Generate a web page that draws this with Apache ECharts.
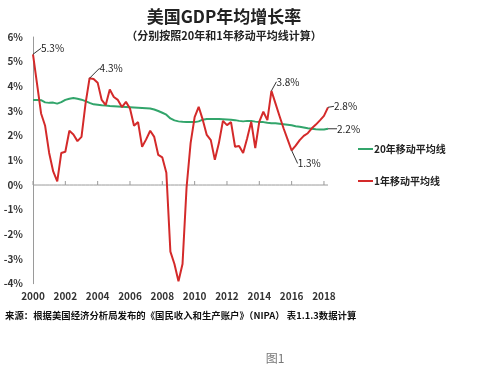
<!DOCTYPE html>
<html><head><meta charset="utf-8">
<script src="https://cdn.jsdelivr.net/npm/echarts@6/dist/echarts.min.js"></script>
<style>html,body{margin:0;padding:0;background:#fff;}#c{width:500px;height:369px;}</style>
</head><body><div id="c"></div>
<script>
// quarterly categories 2000Q1 .. 2018Q2
const startYear = 2000;
const quarterCount = 74;
const quarters = [];
for (let i = 0; i < quarterCount; i++) quarters.push((startYear + Math.floor(i / 4)) + 'Q' + (i % 4 + 1));

const yearLabels = ['2000','2002','2004','2006','2008','2010','2012','2014','2016','2018'];
const yMin = -4, yMax = 6, yStep = 1;

// 1-year moving average (%)
const ma1 = [5.3,4.1,2.9,2.4,1.3,0.55,0.15,1.3,1.35,2.2,2.05,1.78,1.95,3.3,4.33,4.3,4.15,3.45,3.24,3.87,
  3.57,3.45,3.16,3.37,3.1,2.4,2.55,1.55,1.85,2.2,1.95,1.22,1.12,0.5,-2.7,-3.2,-3.9,-3.2,-0.1,1.7,
  2.75,3.17,2.65,2.03,1.82,1.02,1.7,2.6,2.43,2.55,1.55,1.58,1.3,1.9,2.57,1.5,2.57,2.97,2.63,3.82,
  3.31,2.8,2.3,1.85,1.4,1.6,1.82,1.99,2.1,2.3,2.45,2.62,2.8,3.15];
// 20-year moving average (%)
const ma20 = [3.45,3.45,3.44,3.35,3.33,3.34,3.3,3.36,3.45,3.5,3.53,3.5,3.46,3.4,3.33,3.27,3.25,3.23,3.22,3.2,
  3.19,3.18,3.17,3.16,3.15,3.14,3.13,3.12,3.11,3.1,3.06,3.0,2.93,2.85,2.7,2.62,2.58,2.56,2.55,2.55,
  2.55,2.58,2.65,2.68,2.68,2.68,2.68,2.67,2.66,2.65,2.63,2.6,2.58,2.6,2.6,2.57,2.55,2.55,2.52,2.5,
  2.5,2.48,2.46,2.44,2.42,2.38,2.36,2.33,2.3,2.28,2.26,2.25,2.25,2.28];

const ma1Notes = [[0,'5.3%'],[14,'4.3%'],[59,'3.8%'],[64,'1.3%'],[73,'2.8%']];
const ma20Notes = [[73,'2.2%']];

const seriesNames = ['20年移动平均线','1年移动平均线'];
const colors = ['#32a56b','#d42a2a'];

const noteOffsets = {
  '1-0':[3,-6], '1-14':[5,-10], '1-59':[0,-9], '1-64':[1,13], '1-73':[1,-1], '0-73':[4,0]
};

const FONT = 'Noto Sans CJK SC';
const AXIS_GRAY = '#9a9a9a';

function withNotes(values, notes) {
  const map = {};
  notes.forEach(n => map[n[0]] = n[1]);
  return values.map((v, i) => map[i] ? {
    value: v,
    label: {show: true, position: 'right', formatter: map[i], color: '#222', fontSize: 10,
            fontFamily: FONT, distance: 5},
    labelLine: {show: true, lineStyle: {color: '#333', width: 1}}
  } : v);
}

const chart = echarts.init(document.getElementById('c'), null, {renderer: 'canvas'});
const series = [0, 1].map(s => ({
  name: seriesNames[s], type: 'line',
  data: withNotes(s === 0 ? ma20 : ma1, s === 0 ? ma20Notes : ma1Notes),
  showSymbol: true, symbol: 'circle', symbolSize: 0.01,
  lineStyle: {color: colors[s], width: 2}, itemStyle: {color: colors[s]}, z: 2 + s,
  labelLayout: function (p) {
    const o = noteOffsets[s + '-' + p.dataIndex];
    return o ? {dx: o[0], dy: o[1]} : {};
  }
}));
// horizontal axis line at 0 with yearly ticks
series.unshift({
  name: 'zero', type: 'line', data: quarters.map(() => 0), silent: true,
  lineStyle: {color: AXIS_GRAY, width: 1}, z: 1,
  showSymbol: true, symbol: 'rect', symbolSize: [1, 4], symbolOffset: [0, -2],
  itemStyle: {color: AXIS_GRAY},
  symbolKeep: false
});
series[0].data = quarters.map((q, i) => ({value: 0, symbolSize: i % 4 === 0 ? [1, 4] : 0}));

chart.setOption({
  animation: false,
  backgroundColor: '#fff',
  title: [
    {text: '美国GDP年均增长率', left: 219, top: 3, textAlign: 'center',
     textStyle: {fontFamily: FONT, fontSize: 17, fontWeight: 'bold', color: '#222'}},
    {text: '（分别按照20年和1年移动平均线计算）', left: 219, top: 25, textAlign: 'center',
     textStyle: {fontFamily: FONT, fontSize: 11, fontWeight: 'bold', color: '#222'}},
    {text: '来源：根据美国经济分析局发布的《国民收入和生产账户》（NIPA） 表1.1.3数据计算', left: 0, top: 306,
     textStyle: {fontFamily: FONT, fontSize: 9.4, fontWeight: 'bold', color: '#111'}},
    {text: '图1', left: 270, top: 347, textAlign: 'center',
     textStyle: {fontFamily: FONT, fontSize: 12, fontWeight: 'normal', color: '#777'}}
  ],
  legend: {
    orient: 'vertical', left: 353, top: 139, itemGap: 22, itemWidth: 15, itemHeight: 2,
    icon: 'rect', data: seriesNames,
    textStyle: {fontFamily: FONT, fontSize: 10, fontWeight: 'bold', color: '#222', padding: [0,0,0,-4]}
  },
  grid: {left: 33, right: 172, top: 37, bottom: 85.3, containLabel: false, outerBoundsMode: 'none'},
  xAxis: {
    type: 'category', data: quarters, boundaryGap: false, position: 'bottom',
    axisLine: {show: false, onZero: false}, axisTick: {show: false},
    axisLabel: {interval: 7, formatter: (v) => v.slice(0, 4), margin: 8,
                fontFamily: FONT, fontSize: 10, fontWeight: 'bold', color: '#333'},
    splitLine: {show: false}
  },
  yAxis: {
    type: 'value', min: yMin, max: yMax, interval: yStep,
    axisLine: {show: true, onZero: false, lineStyle: {color: AXIS_GRAY}},
    axisTick: {show: false},
    splitLine: {show: false},
    axisLabel: {formatter: '{value}%', margin: 10, fontFamily: FONT, fontSize: 10, fontWeight: 'bold', color: '#333'}
  },
  series: series
});
</script></body></html>
